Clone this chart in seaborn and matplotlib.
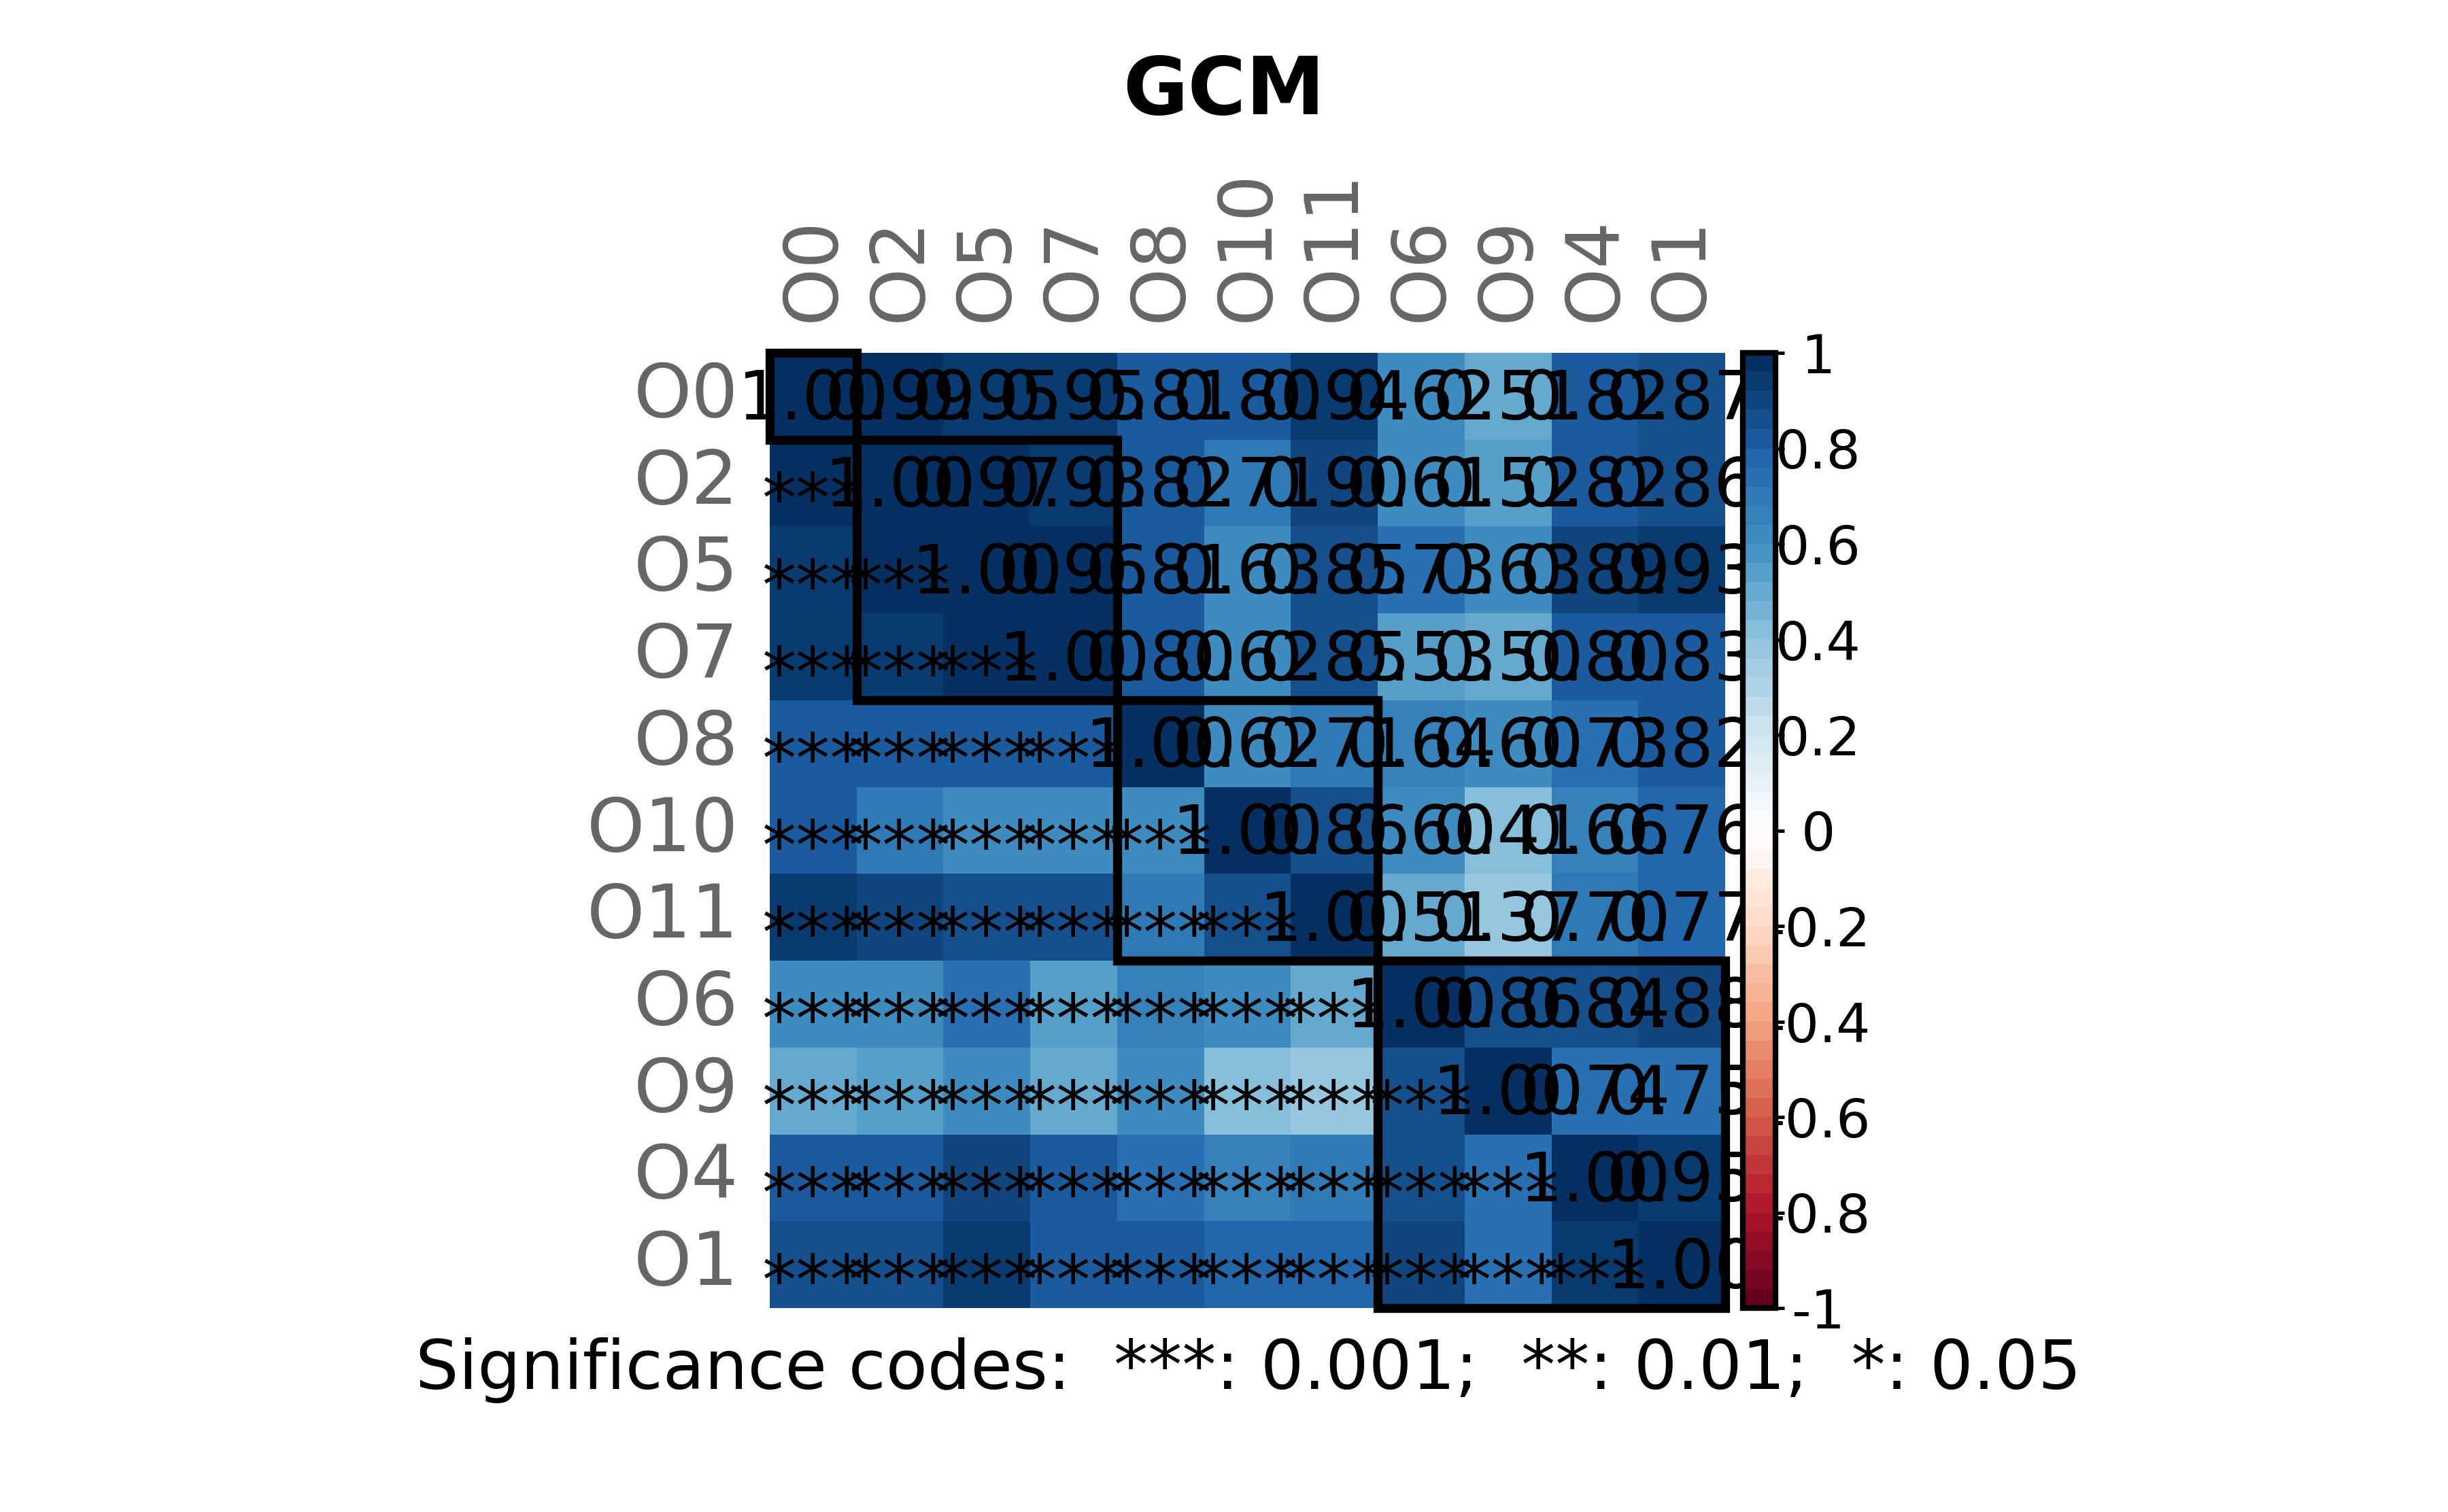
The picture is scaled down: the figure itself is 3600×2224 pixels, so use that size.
import numpy as np
import pandas as pd
import matplotlib
matplotlib.use('Agg')
import matplotlib.pyplot as plt
import seaborn as sns
from matplotlib.colors import ListedColormap, LinearSegmentedColormap
from matplotlib.patches import Rectangle

labels = ['O0', 'O2', 'O5', 'O7', 'O8', 'O10', 'O11', 'O6', 'O9', 'O4', 'O1']

# upper triangle, one list per row (diagonal left out)
upper = [
    [0.99, 0.95, 0.95, 0.81, 0.80, 0.94, 0.62, 0.51, 0.82, 0.87],
    [0.97, 0.93, 0.82, 0.71, 0.90, 0.61, 0.52, 0.82, 0.86],
    [0.96, 0.81, 0.63, 0.85, 0.73, 0.63, 0.89, 0.93],
    [0.80, 0.62, 0.85, 0.53, 0.50, 0.80, 0.83],
    [0.62, 0.71, 0.64, 0.60, 0.73, 0.82],
    [0.86, 0.60, 0.41, 0.66, 0.76],
    [0.51, 0.37, 0.70, 0.77],
    [0.86, 0.84, 0.88],
    [0.74, 0.75],
    [0.95],
]
sig_label = '***'
cluster_sizes = [1, 3, 3, 4]
cbar_ticks = [1, 0.8, 0.6, 0.4, 0.2, 0, -0.2, -0.4, -0.6, -0.8, -1]
cbar_ticklabels = ['1', '0.8', '0.6', '0.4', '0.2', '0', '-0.2', '-0.4', '-0.6', '-0.8', '-1']

n = len(labels)
corr = np.eye(n)
for i, row in enumerate(upper):
    corr[i, i + 1:] = row
    corr[i + 1:, i] = row
df = pd.DataFrame(corr, index=labels, columns=labels)

ramp = ['#67001F', '#B2182B', '#D6604D', '#F4A582', '#FDDBC7', '#FFFFFF',
        '#D1E5F0', '#92C5DE', '#4393C3', '#2166AC', '#053061']
cmap = ListedColormap(LinearSegmentedColormap.from_list('corr', ramp)(np.linspace(0, 1, 50)))

sns.set_theme(style='white')
plt.rcParams['font.family'] = ['DejaVu Sans']
plt.rcParams['axes.unicode_minus'] = False
plt.rcParams['text.color'] = 'black'

W, H = 3600, 2224
fig = plt.figure(figsize=(W / 300, H / 300), dpi=300)
ax = fig.add_axes([1132 / W, 1 - 1924 / H, 1405 / W, 1405 / H])
cax = fig.add_axes([2563 / W, 1 - 1924 / H, 48 / W, 1405 / H])

sns.heatmap(df, ax=ax, cbar_ax=cax, cmap=cmap, vmin=-1, vmax=1,
            xticklabels=True, yticklabels=True)

# cell texts: coefficients on and above the diagonal, stars below
for i in range(n):
    for j in range(n):
        if j >= i:
            ax.text(j + 0.5, i + 0.5 + 0.27, f'{corr[i, j]:.2f}', ha='center',
                    va='baseline', fontsize=24, color='black', clip_on=False)
        else:
            ax.text(j + 0.5, i + 0.5 + 0.45, sig_label, ha='center',
                    va='baseline', fontsize=24, color='black', clip_on=False)

# cluster rectangles
start = 0
for size in cluster_sizes:
    ax.add_patch(Rectangle((start, start), size, size, fill=False,
                           edgecolor='black', linewidth=3.2, clip_on=False, zorder=5))
    start += size

ax.xaxis.tick_top()
ax.set_xticklabels(labels, rotation=90, fontsize=26, color='#666666')
ax.set_yticklabels(labels, rotation=0, fontsize=26, color='#666666')
ax.tick_params(axis='both', length=0)
ax.tick_params(axis='x', pad=11)
ax.tick_params(axis='y', pad=11)
ax.set_xlabel('')
ax.set_ylabel('')

cbar = ax.collections[0].colorbar
cbar.set_ticks(cbar_ticks)
cbar.set_ticklabels(cbar_ticklabels)
cbar.outline.set_edgecolor('black')
cbar.outline.set_linewidth(2)
cax.tick_params(axis='y', right=True, length=3, width=1.2, color='black',
                pad=12, labelsize=19, labelcolor='black')
for t in cax.get_yticklabels():
    t.set_horizontalalignment('center')

fig.text(0.5, 1 - 168 / H, 'GCM', ha='center', va='baseline',
         fontsize=28, fontweight='bold', color='black')
fig.text(1836 / W, 1 - 2043 / H,
         'Significance codes:  ***: 0.001;  **: 0.01;  *: 0.05',
         ha='center', va='baseline', fontsize=24, color='black')

fig.savefig('out.png', dpi=300)
plt.close(fig)
